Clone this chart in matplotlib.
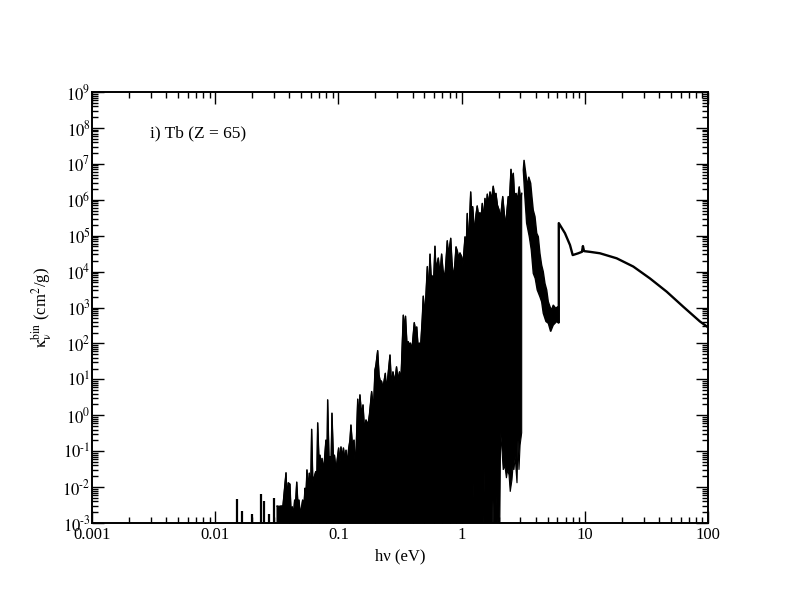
import numpy as np
import matplotlib
matplotlib.use("Agg")
import matplotlib.pyplot as plt
from matplotlib.ticker import LogLocator, FixedLocator, FixedFormatter, NullFormatter

plt.rcParams['font.family'] = ['Liberation Serif', 'DejaVu Serif']
plt.rcParams['mathtext.fontset'] = 'stix'

# values, as log10(hv / eV) and log10(kappa / cm^2 g^-1)

# isolated low-energy lines
spike_log_e = [-1.826, -1.780, -1.704, -1.626, -1.606, -1.566, -1.523]
spike_log_k = [-2.32, -2.67, -2.76, -2.20, -2.38, -2.75, -2.30]

# upper edge of the dense line forest (peaks and dips in turn)
top_log_e = [
    -1.498, -1.482, -1.466, -1.450, -1.425, -1.417, -1.407, -1.393, -1.385, -1.374,
    -1.364, -1.355, -1.348, -1.338, -1.328, -1.320, -1.308, -1.290, -1.279, -1.271,
    -1.263, -1.255, -1.244, -1.236, -1.225, -1.217, -1.206, -1.198, -1.184, -1.176,
    -1.168, -1.157, -1.149, -1.141, -1.133, -1.121, -1.113, -1.101, -1.093, -1.087,
    -1.076, -1.068, -1.060, -1.052, -1.040, -1.032, -1.019, -0.998, -0.987, -0.979,
    -0.967, -0.959, -0.946, -0.938, -0.926, -0.918, -0.906, -0.898, -0.886, -0.873,
    -0.861, -0.843, -0.833, -0.825, -0.812, -0.800, -0.788, -0.776, -0.760, -0.748,
    -0.730, -0.715, -0.703, -0.695, -0.681, -0.670, -0.662, -0.649, -0.638, -0.619,
    -0.610, -0.597, -0.581, -0.569, -0.557, -0.541, -0.528, -0.516, -0.504, -0.492,
    -0.473, -0.463, -0.455, -0.443, -0.433, -0.423, -0.415, -0.403, -0.384, -0.374,
    -0.364, -0.354, -0.343, -0.334, -0.319, -0.311, -0.297, -0.278, -0.269, -0.256,
    -0.248, -0.235, -0.228, -0.216, -0.208, -0.189, -0.175, -0.162, -0.151, -0.140,
    -0.131, -0.116, -0.106, -0.088, -0.078, -0.067, -0.058, -0.045, -0.033, -0.025,
    -0.013, 0.001, 0.011, 0.028, 0.036, 0.046, 0.056, 0.074, 0.082, 0.090,
    0.101, 0.109, 0.117, 0.127, 0.137, 0.149, 0.157, 0.168, 0.178, 0.190,
    0.198, 0.209, 0.218, 0.231, 0.243, 0.257, 0.267, 0.279, 0.291, 0.304,
    0.316, 0.334, 0.344, 0.358, 0.369, 0.379, 0.389, 0.401, 0.409, 0.420,
    0.429, 0.442, 0.454, 0.468, 0.478, 0.488,
]
top_log_k = [
    -2.53, -2.54, -2.53, -2.53, -1.60, -2.36, -1.88, -1.92, -2.64, -2.55,
    -2.78, -2.36, -2.50, -1.86, -2.50, -2.36, -2.78, -2.36, -2.50, -2.03,
    -2.22, -1.52, -2.08, -1.61, -2.22, -0.39, -2.08, -1.75, -1.57, -2.08,
    -0.21, -1.30, -1.11, -1.52, -1.20, -1.52, -1.25, -0.69, -1.47, 0.43,
    -1.25, -1.15, -1.52, 0.06, -1.25, -1.11, -1.52, -0.91, -1.30, -0.88,
    -1.19, -0.91, -1.25, -0.97, -1.38, -0.97, -0.69, -0.27, -0.83, -0.69,
    -1.52, 0.45, -0.13, 0.57, 0.01, 0.29, -0.41, -0.13, -0.27, 0.01,
    0.66, 0.15, 1.26, 1.40, 1.80, 1.12, 0.98, 0.94, 0.76, 1.17,
    0.70, 1.12, 1.68, 0.84, 1.21, 0.93, 1.35, 0.98, 1.21, 0.98,
    2.79, 2.37, 2.76, 1.96, 2.05, 1.96, 2.01, 1.82, 2.58, 2.37,
    2.46, 1.96, 2.01, 1.82, 2.70, 3.32, 2.79, 4.14, 3.35, 4.49,
    3.91, 3.86, 3.63, 4.71, 4.05, 4.38, 3.91, 4.49, 4.05, 3.82,
    4.05, 4.86, 4.46, 4.93, 4.27, 3.88, 4.05, 4.69, 4.55, 4.38,
    4.52, 4.41, 4.18, 4.97, 4.46, 5.62, 4.66, 6.22, 5.58, 5.81,
    5.30, 5.21, 5.58, 5.83, 5.58, 5.64, 5.44, 5.90, 5.44, 6.04,
    5.72, 6.16, 5.85, 6.22, 5.99, 6.38, 6.13, 6.18, 5.85, 5.72,
    5.49, 6.09, 5.72, 5.25, 5.72, 6.09, 5.99, 6.85, 6.55, 6.74,
    6.13, 6.18, 5.99, 6.36, 5.99, 6.18,
]

# lower edge of the forest, right to left (below -3 means off the axis)
low_log_e = [
    0.488, 0.475, 0.466, 0.458, 0.450, 0.442, 0.436, 0.425, 0.420, 0.409,
    0.395, 0.385, 0.374, 0.364, 0.352, 0.338, 0.328, 0.317, 0.308, 0.292,
    0.285, 0.279, 0.263, 0.255, 0.249, 0.231, 0.226, 0.222, 0.206, 0.204,
    0.200, 0.190, 0.184, 0.180, 0.149, 0.144, 0.140, 0.101, 0.095, 0.091,
    -1.498,
]
low_log_k = [
    -0.49, -0.83, -1.52, -0.69, -1.89, -1.52, -1.15, -1.52, -1.33, -1.80,
    -2.13, -1.66, -1.52, -1.75, -1.41, -1.52, -0.97, -0.46, -4.0, -4.0,
    -2.22, -4.0, -4.0, -2.36, -4.0, -4.0, -2.36, -4.0, -4.0, -2.41,
    -4.0, -4.0, -1.52, -4.0, -4.0, -2.16, -4.0, -4.0, -1.85, -4.0,
    -4.0,
]

# 3-6 eV band of lines: upper edge left to right, lower edge right to left
band_log_e = [
    0.507, 0.523, 0.533, 0.545, 0.561, 0.571, 0.582, 0.596, 0.610, 0.623,
    0.636, 0.650, 0.663, 0.677, 0.691, 0.704, 0.718, 0.731, 0.744, 0.764,
    0.780, 0.789,
    0.789, 0.772, 0.744, 0.723, 0.704, 0.685, 0.663, 0.650, 0.636, 0.614,
    0.598, 0.582, 0.566, 0.550, 0.528, 0.512, 0.501,
]
band_log_k = [
    7.11, 6.69, 6.36, 6.64, 6.46, 6.09, 5.71, 5.53, 5.07, 4.97,
    4.51, 4.18, 4.00, 3.67, 3.49, 3.16, 3.02, 2.93, 3.07, 2.98,
    3.02, 3.02,
    2.56, 2.61, 2.51, 2.33, 2.56, 2.61, 2.84, 3.16, 3.30, 3.49,
    3.81, 3.95, 4.60, 4.97, 5.35, 6.18, 6.83,
]

# edge jump and bound-free continuum above 6 eV
cont_log_e = [0.789, 0.789, 0.839, 0.880, 0.902, 0.947, 0.977, 0.985, 0.994, 1.042,
              1.123, 1.259, 1.394, 1.529, 1.665, 1.800, 1.935, 2.000]
cont_log_k = [2.60, 5.35, 5.07, 4.74, 4.46, 4.51, 4.55, 4.71, 4.57, 4.55,
              4.51, 4.37, 4.14, 3.81, 3.44, 3.02, 2.61, 2.45]

x_ticks = [0.001, 0.01, 0.1, 1, 10, 100]
x_tick_labels = ['0.001', '0.01', '0.1', '1', '10', '100']
y_exponents = list(range(-3, 10))

fig = plt.figure(figsize=(7.97, 6.16), dpi=100)
ax = fig.add_axes([0.1154, 0.151, 0.7729, 0.6996])

p = lambda a: np.power(10.0, np.asarray(a))

# dense forest as one filled polygon
poly_e = np.concatenate([p(top_log_e), p(low_log_e)])
poly_k = np.concatenate([p(top_log_k), p(low_log_k)])
ax.fill(poly_e, poly_k, color='black', lw=0.8)
ax.plot(p(top_log_e), p(top_log_k), color='black', lw=1.0)

ax.vlines(p(spike_log_e), 1e-4, p(spike_log_k), color='black', lw=1.6)
ax.fill(p(band_log_e), p(band_log_k), color='black', lw=1.0, ec='black')
ax.plot(p(cont_log_e), p(cont_log_k), color='black', lw=1.7)

ax.set_xscale('log')
ax.set_yscale('log')
ax.set_xlim(1e-3, 100)
ax.set_ylim(1e-3, 1e9)

ax.xaxis.set_major_locator(FixedLocator(x_ticks))
ax.xaxis.set_major_formatter(FixedFormatter(x_tick_labels))
ax.xaxis.set_minor_locator(LogLocator(base=10, subs=np.arange(2, 10), numticks=20))
ax.xaxis.set_minor_formatter(NullFormatter())

y_labels = [r'$10^{%s}$' % str(e).replace('-', '\u2010') for e in y_exponents]
ax.yaxis.set_major_locator(FixedLocator([10.0 ** e for e in y_exponents]))
ax.yaxis.set_major_formatter(FixedFormatter(y_labels))
ax.yaxis.set_minor_locator(LogLocator(base=10, subs=np.arange(2, 10), numticks=30))
ax.yaxis.set_minor_formatter(NullFormatter())

ax.tick_params(which='both', direction='in', top=True, right=True, width=1.0,
               labelsize=12)
ax.tick_params(axis='x', pad=3)
ax.tick_params(axis='y', pad=1)
ax.tick_params(which='major', length=8.5)
ax.tick_params(which='minor', length=4.5)
for s in ax.spines.values():
    s.set_linewidth(1.4)

ax.set_xlabel('h\u03bd (eV)', fontsize=12, labelpad=4)
ax.set_ylabel(r'$\mathrm{\kappa}_{\mathrm{\nu}}^{\mathrm{bin}}$ (cm$^2$/g)',
              fontsize=12, labelpad=6)

ax.text(0.094, 0.905, 'i) Tb (Z = 65)', transform=ax.transAxes,
        fontsize=12.5, va='center', ha='left')

fig.savefig('out.png', dpi=100)
